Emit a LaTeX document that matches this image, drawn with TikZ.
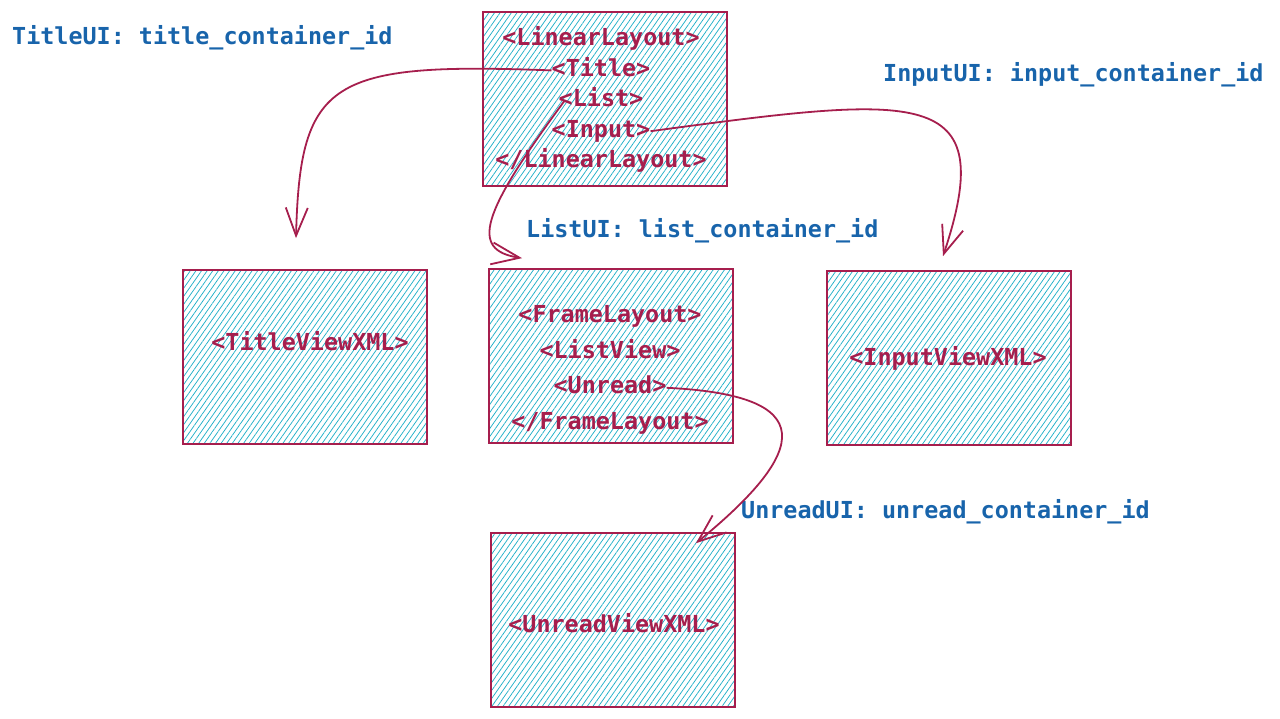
\documentclass[tikz,border=0pt]{standalone}
\usepackage{fontspec}
\setmonofont{DejaVu Sans Mono}
\usetikzlibrary{arrows.meta, patterns.meta, positioning}
\definecolor{crimson}{HTML}{A61E4D}
\definecolor{idblue}{HTML}{1864AB}
\definecolor{hatch}{HTML}{22B0C8}

\begin{document}
\begin{tikzpicture}[x=1pt, y=-1pt,
    box/.style={draw=crimson, line width=1.7pt, pattern={Lines[angle=55, distance=4.6pt, line width=0.75pt]}, pattern color=hatch, minimum width=244pt, minimum height=174pt, inner sep=0pt},
    code/.style={text=crimson, font=\fontsize{23.4}{28}\selectfont\ttfamily\bfseries, inner sep=0pt, text height=17pt, text depth=5pt},
    idlabel/.style={text=idblue, font=\fontsize{23.4}{28}\selectfont\ttfamily\bfseries, inner sep=0pt, anchor=west},
    link/.style={draw=crimson, line width=1.8pt, -{Straight Barb[length=28pt, width=22pt]}}]
    \useasboundingbox (0,0) rectangle (1280,719);

    % boxes
    \node[box] (linear) at (605,99) {};
    \node[box] (titleview) at (305,357) {};
    \node[box] (frame) at (611,356) {};
    \node[box] (inputview) at (949,358) {};
    \node[box] (unreadview) at (613,620) {};

    % top layout
    \node[code] (linearopen) at (601,40) {<LinearLayout>};
    \node[code] (title) [below = 8pt of linearopen] {<Title>};
    \node[code] (list) [below = 8pt of title] {<List>};
    \node[code] (input) [below = 8pt of list] {<Input>};
    \node[code] (linearclose) [below = 8pt of input] {</LinearLayout>};

    % frame layout
    \node[code] (frameopen) at (610,317) {<FrameLayout>};
    \node[code] (listview) [below = 13pt of frameopen] {<ListView>};
    \node[code] (unread) [below = 13pt of listview] {<Unread>};
    \node[code] (frameclose) [below = 13pt of unread] {</FrameLayout>};

    \node[code] (titlexml) at (310,345) {<TitleViewXML>};
    \node[code] (inputxml) at (948,360) {<InputViewXML>};
    \node[code] (unreadxml) at (614,626) {<UnreadViewXML>};

    % container ids
    \node[idlabel] (titleid) at (12,38) {TitleUI: title\_container\_id};
    \node[idlabel] (inputid) at (883,75) {InputUI: input\_container\_id};
    \node[idlabel] (listid) at (526,231) {ListUI: list\_container\_id};
    \node[idlabel] (unreadid) at (741,512) {UnreadUI: unread\_container\_id};

    % arrow tips
    \coordinate (titletip) at ([xshift=-9pt, yshift=31pt]titleview.north);
    \coordinate (listtip) at ([xshift=-89pt, yshift=10pt]frame.north);
    \coordinate (inputtip) at ([xshift=-6pt, yshift=14pt]inputview.north);
    \coordinate (unreadtip) at ([xshift=83pt, yshift=-11pt]unreadview.north);

    \draw[link] (title.west) .. controls (330,62) and (300,80) .. (titletip);
    \draw[link] ([xshift=6pt]list.west) .. controls (480,215) and (470,250) .. (listtip);
    \draw[link] (input.east) .. controls (920,95) and (1000,85) .. (inputtip);
    \draw[link] (unread.east) .. controls (820,395) and (810,450) .. (unreadtip);
\end{tikzpicture}
\end{document}
